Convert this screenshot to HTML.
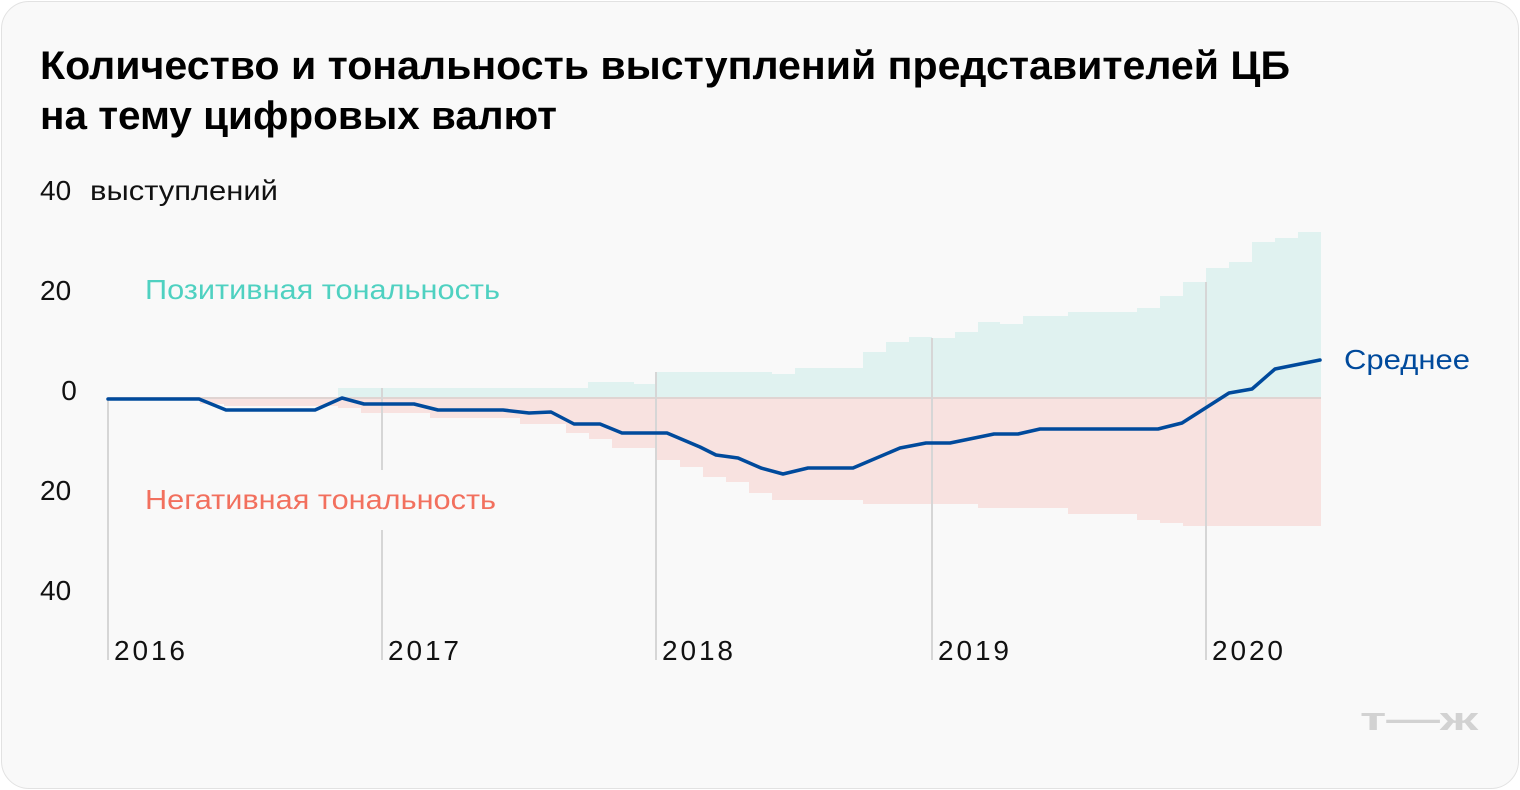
<!DOCTYPE html><html><head><meta charset="utf-8"><style>
body{margin:0;background:#fff;font-family:"Liberation Sans",sans-serif}
.card{position:absolute;left:1px;top:1px;width:1516px;height:786px;background:#f9f9f9;border:1px solid #e2e2e2;border-radius:28px}
</style></head><body><div class="card"></div>
<svg width="1520" height="790" style="position:absolute;left:0;top:0" font-family="Liberation Sans, sans-serif">
<text x="40" y="79" font-size="40" font-weight="bold" fill="#000" textLength="1250" lengthAdjust="spacingAndGlyphs">Количество и тональность выступлений представителей ЦБ</text>
<text x="40" y="129" font-size="40" font-weight="bold" fill="#000" textLength="517" lengthAdjust="spacingAndGlyphs">на тему цифровых валют</text>
<g font-size="28" fill="#111">
<text x="40" y="200">40</text><text x="90" y="200" textLength="188" lengthAdjust="spacingAndGlyphs">выступлений</text>
<text x="40" y="300">20</text><text x="69" y="400" text-anchor="middle">0</text>
<text x="40" y="500">20</text><text x="40" y="600">40</text>
<text x="114" y="660" textLength="71">2016</text><text x="388" y="660" textLength="71">2017</text><text x="662" y="660" textLength="71">2018</text><text x="938" y="660" textLength="71">2019</text><text x="1212" y="660" textLength="71">2020</text>
</g>
<path fill="#e0f2f0" d="M338,398V388H588V382H634V384H656V372H772V374H795V368H863V352H886V342H909V337H932V338H955V332H978V322H1000V324H1023V316H1068V312H1137V308H1160V296H1183V282H1206V268H1229V262H1252V242H1275V238H1298V232H1321V398Z"/>
<path fill="#f8e2e0" d="M200,398V404H224V406H338V408H361V413H430V418H520V424H566V433H589V439H612V448H656V460H680V467H703V477H726V482H749V493H772V500H863V504H978V508H1068V514H1137V520H1160V523H1183V526H1321V398Z"/>
<line x1="108" y1="398" x2="1321" y2="398" stroke="#e0d4d2" stroke-width="2"/>
<g stroke="#d6d6d6" stroke-width="2">
<line x1="108" y1="398" x2="108" y2="660"/><line x1="382" y1="388" x2="382" y2="470"/><line x1="382" y1="530" x2="382" y2="660"/>
<line x1="656" y1="372" x2="656" y2="660"/><line x1="932" y1="338" x2="932" y2="660"/><line x1="1206" y1="282" x2="1206" y2="660"/>
</g>
<polyline fill="none" stroke="#004a9c" stroke-width="3.5" stroke-linejoin="round" stroke-linecap="round" points="108,399 199,399 226,410 315,410 342,398 364,404 414,404 438,410 503,410 529,413 551,412 574,424 600,424 622,433 667,433 700,447 716,455 738,458 761,468 783,474 808,468 853,468 900,448 926,443 950,443 994,434 1018,434 1040,429 1158,429 1182,423 1229,393 1252,389 1275,369 1320,360"/>
<text x="145" y="299" font-size="28" fill="#4fd1c1" textLength="355" lengthAdjust="spacingAndGlyphs">Позитивная тональность</text>
<text x="145" y="509" font-size="28" fill="#f2705e" textLength="351" lengthAdjust="spacingAndGlyphs">Негативная тональность</text>
<text x="1344" y="369" font-size="28" fill="#004a9c" textLength="126" lengthAdjust="spacingAndGlyphs">Среднее</text>
<text x="1360" y="730" font-size="32" font-weight="bold" fill="#d2d2d2" textLength="118" lengthAdjust="spacingAndGlyphs">т—ж</text>
</svg></body></html>
